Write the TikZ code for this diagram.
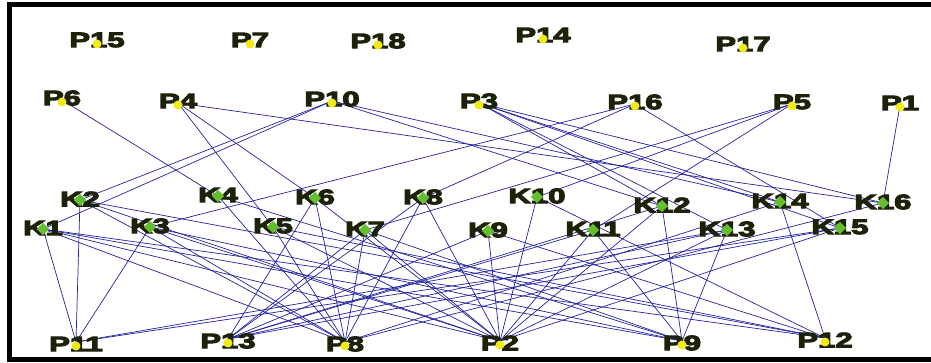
\documentclass[tikz,border=0pt]{standalone}
\usepackage{fontspec}
\newfontfamily\labelfont{Liberation Sans}
\usetikzlibrary{shapes.geometric}
\definecolor{edgeblue}{RGB}{35,35,160}
\definecolor{labeldark}{RGB}{28,34,8}
\definecolor{pdot}{RGB}{240,235,20}
\definecolor{kdot}{RGB}{100,190,45}
\tikzset{
  lbl/.style={text=labeldark,font=\labelfont\fontsize{21}{21}\bfseries\selectfont,inner sep=0pt,anchor=center},
  pnode/.style={circle,fill=pdot,inner sep=0pt,minimum size=9pt},
  knode/.style={diamond,fill=kdot,inner sep=0pt,minimum size=12.5pt},
  link/.style={draw=edgeblue,line width=0.7pt},
  frame/.style={fill=black}
}
% wide, heavy label text: stretched horizontally, glyphs filled and outlined
\newcommand{\wide}[1]{\scalebox{1.48}[1]{\special{pdf:literal direct 2 Tr 0.9 w 0.11 0.13 0.03 RG}#1\special{pdf:literal direct 0 Tr}}}
\begin{document}
\begin{tikzpicture}[x=1pt,y=-1pt]
\useasboundingbox (0,0) rectangle (931,362);
% frame
\fill[frame] (7,2) rectangle (931,7);
\fill[frame] (7,2) rectangle (12,362);
\fill[frame] (7,357) rectangle (931,362);
% vertex positions
\foreach \n/\x/\y in {P15/97/42,P7/250/42,P18/378/43,P14/543/37,P17/743/46,
  P6/62/100,P4/178/103,P10/332/101,P3/479/103,P16/635/104,P5/792/104,P1/900/105,
  P11/76/342,P13/228/339,P8/345/342,P2/500/341,P9/682/341,P12/825/338}
  \coordinate (\n) at (\x,\y);
\foreach \n/\x/\y in {K2/80/200,K4/218/196,K6/315/198,K8/423/198,K10/537/197,K12/662/206,K14/780/202,K16/883/203,
  K1/43/229,K3/150/227,K5/273/227,K7/365/230,K9/488/231,K11/593/230,K13/727/230,K15/840/228}
  \coordinate (\n) at (\x,\y);
% connectors
\foreach \a/\b in {P6/K4,P4/K5,P4/K6,P4/K16,P10/K1,P10/K2,P10/K12,P10/K14,
  P3/K12,P3/K13,P3/K14,P3/K15,P3/K16,P16/K3,P16/K8,P16/K15,P5/K7,P5/K10,P5/K11,P1/K16,
  K1/P11,K1/P8,K1/P2,K1/P9,K1/P12,K2/P11,K2/P8,K2/P2,K2/P12,
  K3/P11,K3/P8,K3/P2,K3/P9,K4/P8,K4/P9,K5/P8,K5/P2,K5/P12,
  K6/P13,K6/P8,K6/P2,K7/P13,K7/P8,K7/P2,K7/P9,K8/P8,K8/P2,K8/P13,
  K9/P2,K9/P13,K9/P12,K10/P2,K10/P12,K11/P2,K11/P9,K11/P13,
  K12/P9,K12/P2,K12/P13,K13/P9,K13/P2,K13/P13,K13/P11,
  K14/P12,K14/P8,K15/P2,K15/P11,K15/P13,K16/P8}
  \draw[link] (\a) -- (\b);
% labels and markers
\foreach \n in {P15,P7,P18,P14,P17,P6,P4,P10,P3,P16,P5,P1} {
  \node[lbl] (\n-t) at ([yshift=2pt]\n) {\wide{\n}};
  \node[pnode] (\n-d) at ([yshift=-2pt]\n) {};
}
\foreach \n in {P11,P13,P8,P2,P9,P12} {
  \node[lbl] (\n-t) at ([yshift=-2pt]\n) {\wide{\n}};
  \node[pnode] (\n-d) at ([yshift=-4pt]\n) {};
}
\foreach \n in {K1,K2,K3,K4,K5,K6,K7,K8,K9,K10,K11,K12,K13,K14,K15,K16} {
  \node[lbl] (\n-t) at ([yshift=1pt]\n) {\wide{\n}};
  \node[knode] (\n-d) at (\n) {};
}
\end{tikzpicture}
\end{document}
